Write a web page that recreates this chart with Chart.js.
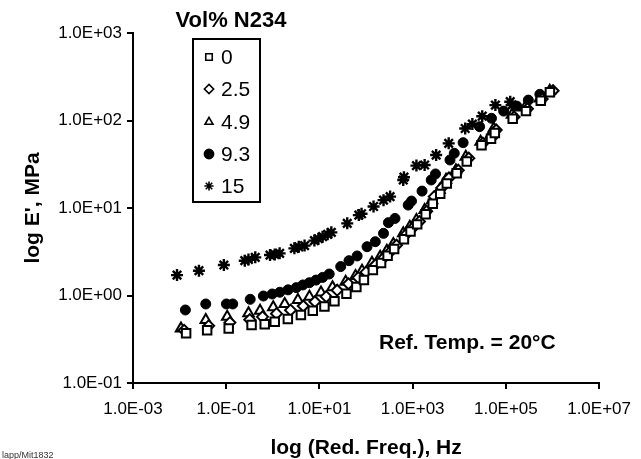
<!DOCTYPE html>
<html>
<head>
<meta charset="utf-8">
<script src="https://cdn.jsdelivr.net/npm/chart.js@4.4.1/dist/chart.umd.min.js"></script>
<style>
  html, body { margin: 0; padding: 0; background: #fff; }
  #wrap { position: relative; width: 641px; height: 459px; }
</style>
</head>
<body>
<div id="wrap"><canvas id="chart" width="641" height="459"></canvas></div>
<script>
// series (reduced frequency in Hz, E' in MPa)
const seriesNames = ["0", "2.5", "4.9", "9.3", "15"];

const x0 = [0.0138, 0.039, 0.113, 0.35, 0.67, 1.1, 2.1, 4.0, 7.2, 12.8, 21, 38, 62, 90, 140, 210, 290, 400, 650, 900, 1250, 1900, 2700, 3900, 5400, 8800, 14500, 30000, 48000, 58000, 140000, 270000, 560000, 880000];
const y0 = [0.37, 0.40, 0.42, 0.46, 0.47, 0.50, 0.54, 0.60, 0.67, 0.75, 0.86, 1.05, 1.25, 1.50, 1.95, 2.35, 2.85, 3.4, 4.4, 5.4, 6.5, 8.5, 11.2, 14.5, 19, 25, 34, 52, 62, 72, 105, 128, 168, 210];

const x25 = [0.0125, 0.042, 0.12, 0.32, 0.6, 1.2, 2.4, 4.5, 8, 14, 24, 42, 68, 100, 160, 240, 330, 450, 700, 1000, 1400, 2000, 2900, 4200, 6000, 9500, 16000, 32000, 52000, 62000, 150000, 290000, 600000, 1030000];
const y25 = [0.40, 0.45, 0.49, 0.53, 0.57, 0.62, 0.68, 0.76, 0.85, 0.97, 1.15, 1.36, 1.6, 1.85, 2.25, 2.7, 3.15, 3.75, 4.9, 5.9, 7.0, 9.2, 13.5, 17, 22, 27, 37, 55, 65, 78, 110, 136, 176, 219];

const x49 = [0.0107, 0.0364, 0.105, 0.301, 0.532, 1.02, 1.80, 3.45, 6.1, 10.8, 19.1, 36.5, 59.4, 82, 134, 201, 279, 385, 628, 869, 1205, 1807, 2620, 3760, 5200, 8470, 13800, 28700, 46700, 55000, 135000, 258000, 536000, 873000];
const y49 = [0.42, 0.525, 0.573, 0.625, 0.671, 0.733, 0.80, 0.889, 0.97, 1.08, 1.24, 1.44, 1.67, 1.92, 2.37, 2.78, 3.25, 3.88, 5.13, 6.12, 7.3, 9.5, 12.3, 16.1, 21, 27, 38.6, 57.3, 68, 81, 116, 141, 179, 219];

const x93 = [0.0133, 0.0364, 0.101, 0.138, 0.327, 0.627, 0.97, 1.41, 2.12, 3.18, 4.41, 6.1, 8.45, 11.7, 16.2, 28.6, 43, 64.4, 105, 158, 237, 302, 418, 802, 944, 1590, 2500, 3090, 6320, 7810, 12100, 27300, 49100, 89500, 171000, 303000, 536000];
const y93 = [0.683, 0.80, 0.80, 0.80, 0.904, 0.986, 1.04, 1.09, 1.16, 1.23, 1.32, 1.40, 1.50, 1.61, 1.76, 2.14, 2.50, 2.83, 3.61, 4.12, 5.13, 6.8, 7.6, 10.8, 12.0, 15.6, 20.9, 24.5, 35.4, 42.2, 55.8, 85, 106, 128, 146, 171, 199];

const x15 = [0.0088, 0.026, 0.089, 0.25, 0.3, 0.42, 0.87, 1.1, 1.4, 2.9, 3.6, 4.8, 7.8, 9.5, 11.7, 15, 18, 39.5, 70, 80, 145, 237, 328, 628, 650, 1205, 1807, 3192, 5930, 13400, 19100, 31100, 59600, 124000, 135000];
const y15 = [1.71, 1.92, 2.23, 2.5, 2.58, 2.73, 2.9, 2.95, 3.03, 3.46, 3.6, 3.72, 4.24, 4.45, 4.7, 5.0, 5.27, 6.68, 8.3, 8.6, 10.4, 12.3, 13.5, 20.9, 22.5, 30.5, 31.0, 40.3, 54.8, 81, 91, 112, 150, 164, 150];

const xTicks = [1e-3, 1e-1, 1e1, 1e3, 1e5, 1e7];
const yTicks = [1e-1, 1e0, 1e1, 1e2, 1e3];

const pts = (xs, ys) => xs.map((v, i) => ({ x: v, y: ys[i] }));

function sci(v) {
  const e = Math.round(Math.log10(v));
  const m = v / Math.pow(10, e);
  const sign = e < 0 ? "-" : "+";
  return m.toFixed(1) + "E" + sign + String(Math.abs(e)).padStart(2, "0");
}

const styles = [
  { pointStyle: "rect", pointRadius: 6, backgroundColor: "#fff", borderColor: "#000", borderWidth: 2 },
  { pointStyle: "rectRot", pointRadius: 5.5, backgroundColor: "#fff", borderColor: "#000", borderWidth: 2 },
  { pointStyle: "triangle", pointRadius: 6, backgroundColor: "#fff", borderColor: "#000", borderWidth: 2 },
  { pointStyle: "circle", pointRadius: 5, backgroundColor: "#000", borderColor: "#000", borderWidth: 1 },
  { pointStyle: "star", pointRadius: 6, backgroundColor: "#000", borderColor: "#000", borderWidth: 2.4 }
];

const allData = [pts(x0, y0), pts(x25, y25), pts(x49, y49), pts(x93, y93), pts(x15, y15)];

const datasets = seriesNames.map((name, i) => Object.assign({
  label: name,
  data: allData[i],
  showLine: false,
  pointHoverRadius: styles[i].pointRadius
}, styles[i]));

const FONT = "'Liberation Sans', Arial, Helvetica, sans-serif";

// legend box, its heading, the reference temperature note and the figure id
const extras = {
  id: "extras",
  afterDraw(chart) {
    const ctx = chart.ctx;
    ctx.save();
    ctx.fillStyle = "#000";
    ctx.textBaseline = "middle";

    ctx.font = "bold 22px " + FONT;
    ctx.textAlign = "center";
    ctx.fillText("Vol% N234", 231, 21);

    ctx.strokeStyle = "#000";
    ctx.lineWidth = 2;
    ctx.strokeRect(193, 39, 67, 163);

    const rows = [57, 89, 122, 154, 186];
    ctx.font = "21px " + FONT;
    ctx.textAlign = "left";
    seriesNames.forEach((name, i) => {
      const s = styles[i];
      ctx.fillStyle = s.backgroundColor;
      ctx.strokeStyle = s.borderColor;
      ctx.lineWidth = 1.6;
      Chart.helpers.drawPoint(ctx, { pointStyle: s.pointStyle, radius: 4.6, borderWidth: 1.6, rotation: 0 }, 209, rows[i]);
      ctx.fillStyle = "#000";
      ctx.fillText(name, 221, rows[i] + 1);
    });

    ctx.font = "bold 21px " + FONT;
    ctx.fillText("Ref. Temp. = 20°C", 379, 343);

    ctx.font = "9px " + FONT;
    ctx.fillStyle = "#333";
    ctx.fillText("lapp/Mit1832", 2, 456);
    ctx.restore();
  }
};

new Chart(document.getElementById("chart"), {
  type: "scatter",
  data: { datasets },
  options: {
    responsive: false,
    devicePixelRatio: 1,
    animation: false,
    layout: { padding: { left: 0, right: 36, top: 33, bottom: 0 } },
    plugins: { legend: { display: false }, tooltip: { enabled: false } },
    scales: {
      x: {
        type: "logarithmic",
        min: 1e-3,
        max: 1e7,
        afterBuildTicks: s => { s.ticks = xTicks.map(v => ({ value: v })); },
        afterFit: s => { s.height = 76; },
        border: { display: true, color: "#000", width: 2 },
        grid: { drawOnChartArea: false, drawTicks: true, tickLength: 6, color: "#000", lineWidth: 2 },
        ticks: { color: "#000", font: { family: FONT, size: 17 }, padding: 10, maxRotation: 0, autoSkip: false, callback: v => sci(v) },
        title: { display: true, text: "log (Red. Freq.), Hz", color: "#000", font: { family: FONT, size: 21, weight: "bold", lineHeight: 1.0 }, padding: { top: 0, bottom: 0 } }
      },
      y: {
        type: "logarithmic",
        min: 1e-1,
        max: 1e3,
        afterBuildTicks: s => { s.ticks = yTicks.map(v => ({ value: v })); },
        afterFit: s => { s.width = 133; },
        border: { display: true, color: "#000", width: 2 },
        grid: { drawOnChartArea: false, drawTicks: true, tickLength: 6, color: "#000", lineWidth: 2 },
        ticks: { color: "#000", font: { family: FONT, size: 17 }, padding: 5, autoSkip: false, callback: v => sci(v) },
        title: { display: true, text: "log E', MPa", color: "#000", font: { family: FONT, size: 21, weight: "bold" }, padding: { top: 21, bottom: 0 } }
      }
    }
  },
  plugins: [extras]
});
</script>
</body>
</html>
